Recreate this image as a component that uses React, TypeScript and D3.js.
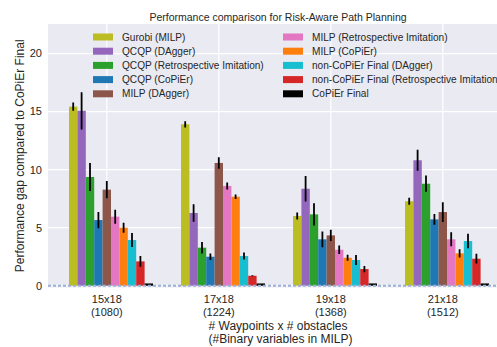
import React from "react";
import * as d3 from "d3";

const categories = ["15x18", "17x18", "19x18", "21x18"];
const binaryVars = ["(1080)", "(1224)", "(1368)", "(1512)"];
const seriesNames = [
  "Gurobi (MILP)",
  "QCQP (DAgger)",
  "QCQP (Retrospective Imitation)",
  "QCQP (CoPiEr)",
  "MILP (DAgger)",
  "MILP (Retrospective Imitation)",
  "MILP (CoPiEr)",
  "non-CoPiEr Final (DAgger)",
  "non-CoPiEr Final (Retrospective Imitation)",
  "CoPiEr Final",
];
const seriesColors = [
  "#bcbd22", "#9467bd", "#2ca02c", "#1f77b4", "#8c564b",
  "#e377c2", "#ff7f0e", "#17becf", "#d62728", "#000000",
];
// values[series][category]
const gurobiMILP = [15.43, 13.91, 6.01, 7.28];
const qcqpDAgger = [15.07, 6.27, 8.36, 10.81];
const qcqpRetro = [9.37, 3.28, 6.15, 8.79];
const qcqpCoPiEr = [5.66, 2.5, 4.0, 5.72];
const milpDAgger = [8.28, 10.58, 4.34, 6.35];
const milpRetro = [5.95, 8.6, 3.1, 4.0];
const milpCoPiEr = [5.0, 7.67, 2.41, 2.79];
const nonCoPiErDAgger = [3.94, 2.56, 2.22, 3.85];
const nonCoPiErRetro = [2.1, 0.86, 1.44, 2.33];
const coPiErFinal = [0.2, 0.2, 0.2, 0.2];
// errors
const gurobiMILPErr = [0.36, 0.27, 0.3, 0.3];
const qcqpDAggerErr = [1.6, 0.76, 1.1, 0.9];
const qcqpRetroErr = [1.2, 0.5, 0.95, 0.7];
const qcqpCoPiErErr = [0.7, 0.28, 0.68, 0.47];
const milpDAggerErr = [0.75, 0.5, 0.48, 0.85];
const milpRetroErr = [0.6, 0.3, 0.37, 0.6];
const milpCoPiErErr = [0.43, 0.2, 0.26, 0.35];
const nonCoPiErDAggerErr = [0.6, 0.3, 0.43, 0.62];
const nonCoPiErRetroErr = [0.46, 0.05, 0.27, 0.42];
const coPiErFinalErr = [0, 0, 0, 0];

const values = [
  gurobiMILP, qcqpDAgger, qcqpRetro, qcqpCoPiEr, milpDAgger,
  milpRetro, milpCoPiEr, nonCoPiErDAgger, nonCoPiErRetro, coPiErFinal,
];
const errors = [
  gurobiMILPErr, qcqpDAggerErr, qcqpRetroErr, qcqpCoPiErErr, milpDAggerErr,
  milpRetroErr, milpCoPiErErr, nonCoPiErDAggerErr, nonCoPiErRetroErr, coPiErFinalErr,
];
const yTicks = [0, 5, 10, 15, 20];

const W = 497;
const H = 347;
const plotLeft = 48;
const plotTop = 24;
const plotBottom = 287.5;
const plotRight = 510;
const barW = 0.075;
const FONT = "'Liberation Sans', Arial, sans-serif";

export default function App() {
  const x = d3.scaleLinear().domain([-0.525, 3.6]).range([plotLeft, plotRight]);
  const y = d3.scaleLinear().domain([-0.15, 22.55]).range([plotBottom, plotTop]);

  const bars: React.ReactNode[] = [];
  const errs: React.ReactNode[] = [];
  values.forEach((vals, s) => {
    vals.forEach((v, c) => {
      const cx = c + (s - 4) * barW;
      const x0 = x(cx - barW / 2);
      const x1 = x(cx + barW / 2);
      bars.push(
        <rect key={`b${s}-${c}`} x={x0} y={y(v)} width={x1 - x0} height={y(0) - y(v)} fill={seriesColors[s]} />
      );
      const e = errors[s][c];
      if (e > 0) {
        errs.push(
          <line key={`e${s}-${c}`} x1={x(cx)} x2={x(cx)} y1={y(v - e)} y2={y(v + e)} stroke="#000" strokeWidth={1.8} />
        );
      }
    });
  });

  return (
    <svg width={W} height={H} style={{ position: "absolute", left: 0, top: 0, background: "#fff" }} fontFamily={FONT}>
      <defs>
        <clipPath id="plotClip">
          <rect x={plotLeft} y={plotTop} width={plotRight - plotLeft} height={plotBottom - plotTop} />
        </clipPath>
      </defs>
      <rect x={plotLeft} y={plotTop} width={plotRight - plotLeft} height={plotBottom - plotTop} fill="#eaeaf2" />
      <g clipPath="url(#plotClip)">
        {yTicks.map((t) => (
          <line key={`gy${t}`} x1={plotLeft} x2={plotRight} y1={y(t)} y2={y(t)} stroke="#fff" strokeWidth={1.2} />
        ))}
        {categories.map((c, i) => (
          <line key={`gx${c}`} x1={x(i)} x2={x(i)} y1={plotTop} y2={plotBottom} stroke="#fff" strokeWidth={1.2} />
        ))}
        {bars}
        {errs}
        <line x1={plotLeft} x2={plotRight} y1={y(0)} y2={y(0)} stroke="#9aaed6" strokeWidth={2} strokeDasharray="3,2" />
      </g>
      {yTicks.map((t) => (
        <text key={`ty${t}`} x={42} y={y(t)} dy="0.35em" textAnchor="end" fontSize={11} fill="#262626">{t}</text>
      ))}
      {categories.map((c, i) => (
        <g key={`tx${c}`}>
          <text x={x(i)} y={303} textAnchor="middle" fontSize={11} fill="#262626">{c}</text>
          <text x={x(i)} y={316} textAnchor="middle" fontSize={11} fill="#262626">{binaryVars[i]}</text>
        </g>
      ))}
      <text x={278} y={330} textAnchor="middle" fontSize={12} fill="#262626"># Waypoints x # obstacles</text>
      <text x={280.5} y={343} textAnchor="middle" fontSize={12} fill="#262626">(#Binary variables in MILP)</text>
      <text transform={`translate(20,${(plotTop + plotBottom) / 2}) rotate(-90)`} textAnchor="middle" dy="0.35em" fontSize={12} fill="#262626">
        Performance gap compared to CoPiEr Final
      </text>
      <text x={278} y={21} textAnchor="middle" fontSize={10.5} fill="#262626">
        Performance comparison for Risk-Aware Path Planning
      </text>
      {seriesNames.map((n, i) => {
        const col = Math.floor(i / 5);
        const row = i % 5;
        const px = col === 0 ? 93 : 283;
        const cy = 37 + row * 14.2;
        return (
          <g key={`lg${i}`}>
            <rect x={px} y={cy - 3.5} width={20} height={7} fill={seriesColors[i]} />
            <text x={px + 29} y={cy} dy="0.35em" fontSize={10.1} fill="#262626">{n}</text>
          </g>
        );
      })}
    </svg>
  );
}
